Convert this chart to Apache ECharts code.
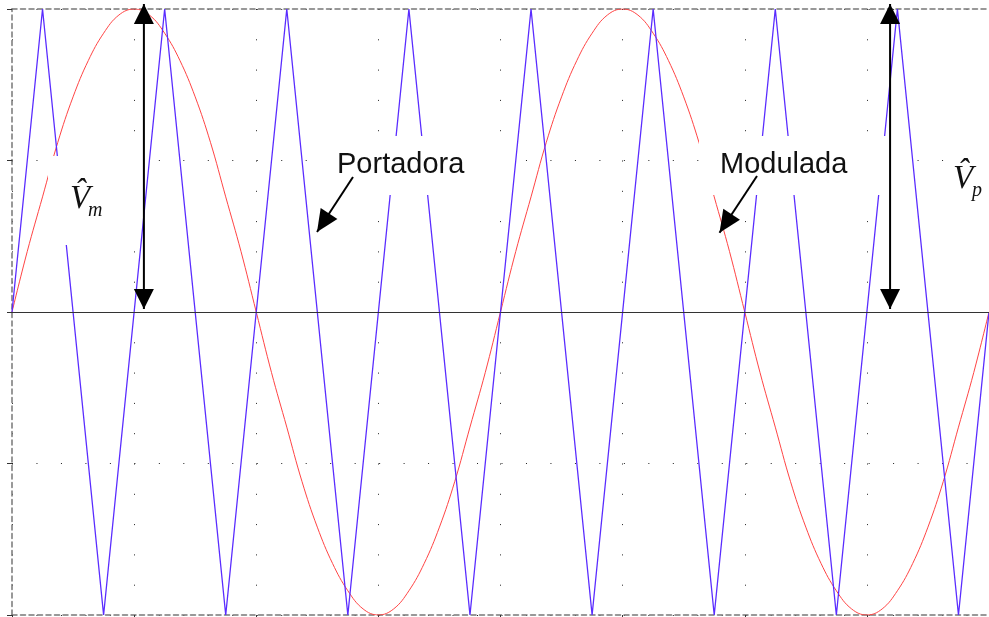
<!DOCTYPE html>
<html>
<head>
<meta charset="utf-8">
<script src="https://cdn.jsdelivr.net/npm/echarts@6/dist/echarts.min.js"></script>
<style>
  html, body { margin: 0; padding: 0; background: #fff; }
  #chart { width: 989px; height: 617px; }
</style>
</head>
<body>
<div id="chart"></div>
<script>
// Carrier (triangular wave): vertices at each peak and trough
const carrierX = [0, 0.25, 0.75, 1.25, 1.75, 2.25, 2.75, 3.25, 3.75, 4.25, 4.75, 5.25, 5.75, 6.25, 6.75, 7.25, 7.75, 8];
const carrierY = [0, 1, -1, 1, -1, 1, -1, 1, -1, 1, -1, 1, -1, 1, -1, 1, -1, 0];

// Modulating wave: one sample every 0.125 units along x
const modStep = 0.125;
const modY = [
  0, 0.2, 0.38, 0.56, 0.71, 0.83, 0.92, 0.98, 1, 0.98, 0.92, 0.83, 0.71, 0.56, 0.38, 0.2,
  0, -0.2, -0.38, -0.56, -0.71, -0.83, -0.92, -0.98, -1, -0.98, -0.92, -0.83, -0.71, -0.56, -0.38, -0.2,
  0, 0.2, 0.38, 0.56, 0.71, 0.83, 0.92, 0.98, 1, 0.98, 0.92, 0.83, 0.71, 0.56, 0.38, 0.2,
  0, -0.2, -0.38, -0.56, -0.71, -0.83, -0.92, -0.98, -1, -0.98, -0.92, -0.83, -0.71, -0.56, -0.38, -0.2,
  0
];

// Peak amplitudes marked with double arrows (x position, from 0 up to the peak)
const vmArrowX = 1.08;
const vmPeak = 1;
const vpArrowX = 7.19;
const vpPeak = 1;

const chart = echarts.init(document.getElementById('chart'), null, { renderer: 'canvas' });

const carrierData = carrierX.map((x, i) => [x, carrierY[i]]);
const modData = modY.map((y, i) => [i * modStep, y]);

const borderLine = { color: '#777', width: 1.5, type: [5, 3.5] };

chart.setOption({
  animation: false,
  backgroundColor: '#fff',
  grid: { left: 12, right: -2, top: 9, bottom: 2, containLabel: false },
  xAxis: [
    {
      type: 'value', min: 0, max: 8, interval: 1, position: 'bottom',
      axisLine: { show: true, onZero: false, lineStyle: borderLine },
      axisTick: { show: true, inside: false, length: 5, lineStyle: { color: '#333' } },
      axisLabel: { show: false },
      splitLine: { show: true, lineStyle: { color: '#222', width: 1, type: [1, 29.3] } }
    },
    {
      type: 'value', min: 0, max: 8, interval: 1, position: 'top',
      axisLine: { show: true, onZero: false, lineStyle: borderLine },
      axisTick: { show: false },
      axisLabel: { show: false },
      splitLine: { show: false }
    }
  ],
  yAxis: {
    type: 'value', min: -1, max: 1, interval: 0.5,
    axisLine: { show: true, onZero: false, lineStyle: borderLine },
    axisTick: { show: true, inside: false, length: 5, lineStyle: { color: '#333' } },
    axisLabel: { show: false },
    splitLine: { show: true, lineStyle: { color: '#222', width: 1, type: [1, 23.475] } }
  },
  series: [
    {
      name: 'Modulada', type: 'line', data: modData, showSymbol: false, smooth: 0.4,
      silent: true, z: 2,
      lineStyle: { color: '#ff4444', width: 1 }
    },
    {
      name: 'Portadora', type: 'line', data: carrierData, showSymbol: false,
      silent: true, z: 3,
      lineStyle: { color: '#5a2cff', width: 1.3 },
      markLine: {
        silent: true, symbol: ['none', 'none'], label: { show: false },
        lineStyle: { color: '#333', width: 1, type: 'solid' },
        data: [{ yAxis: 0 }]
      }
    }
  ]
});

function toPx(x, y) {
  return chart.convertToPixel({ xAxisIndex: 0, yAxisIndex: 0 }, [x, y]);
}

// Filled triangular arrow head with its tip at `tip`, pointing away from `from`
function head(tip, from, len, wid) {
  const dx = tip[0] - from[0], dy = tip[1] - from[1];
  const d = Math.hypot(dx, dy);
  const ux = dx / d, uy = dy / d;
  const bx = tip[0] - ux * len, by = tip[1] - uy * len;
  return {
    type: 'polygon', z: 70, silent: true,
    shape: { points: [tip, [bx - uy * wid / 2, by + ux * wid / 2], [bx + uy * wid / 2, by - ux * wid / 2]] },
    style: { fill: '#000' }
  };
}

function shaft(a, b) {
  return {
    type: 'line', z: 69, silent: true,
    shape: { x1: a[0], y1: a[1], x2: b[0], y2: b[1] },
    style: { stroke: '#000', lineWidth: 2 }
  };
}

function doubleArrow(x, peak) {
  const bottom = toPx(x, 0.01);
  const top = toPx(x, peak);
  top[1] -= 5;
  return [shaft(bottom, top), head(top, bottom, 20, 20), head(bottom, top, 20, 20)];
}

function pointer(from, tip) {
  return [shaft(from, tip), head(tip, from, 22, 20)];
}

// Label frames are opaque: they hide the traces behind them
function frame(x, y, w, h) {
  return { type: 'rect', z: 50, silent: true, shape: { x, y, width: w, height: h }, style: { fill: '#fff' } };
}

function label(text, x, y, font, align) {
  return {
    type: 'text', z: 60, silent: true,
    style: { text, x, y, font, fill: '#111', align: align || 'left', verticalAlign: 'middle' }
  };
}

const sansFont = '29px "Liberation Sans", Arial, sans-serif';
const bigItalic = 'italic 33px "Liberation Serif", "Times New Roman", serif';
const subItalic = 'italic 20px "Liberation Serif", "Times New Roman", serif';

const elements = [
  frame(48, 156, 92, 89),
  frame(315, 136, 193, 59),
  frame(699, 136, 196, 59),

  label('Portadora', 337, 165, sansFont),
  label('Modulada', 720, 165, sansFont),

  label('V\u0302', 70, 199, bigItalic),
  label('m', 88, 211, subItalic),
  label('V\u0302', 953, 179, bigItalic),
  label('p', 972, 191, subItalic)
]
  .concat(pointer([353, 177], [317, 232]))
  .concat(pointer([757, 176], [719.5, 232.7]))
  .concat(doubleArrow(vmArrowX, vmPeak))
  .concat(doubleArrow(vpArrowX, vpPeak));

chart.setOption({ graphic: { elements } });
</script>
</body>
</html>
